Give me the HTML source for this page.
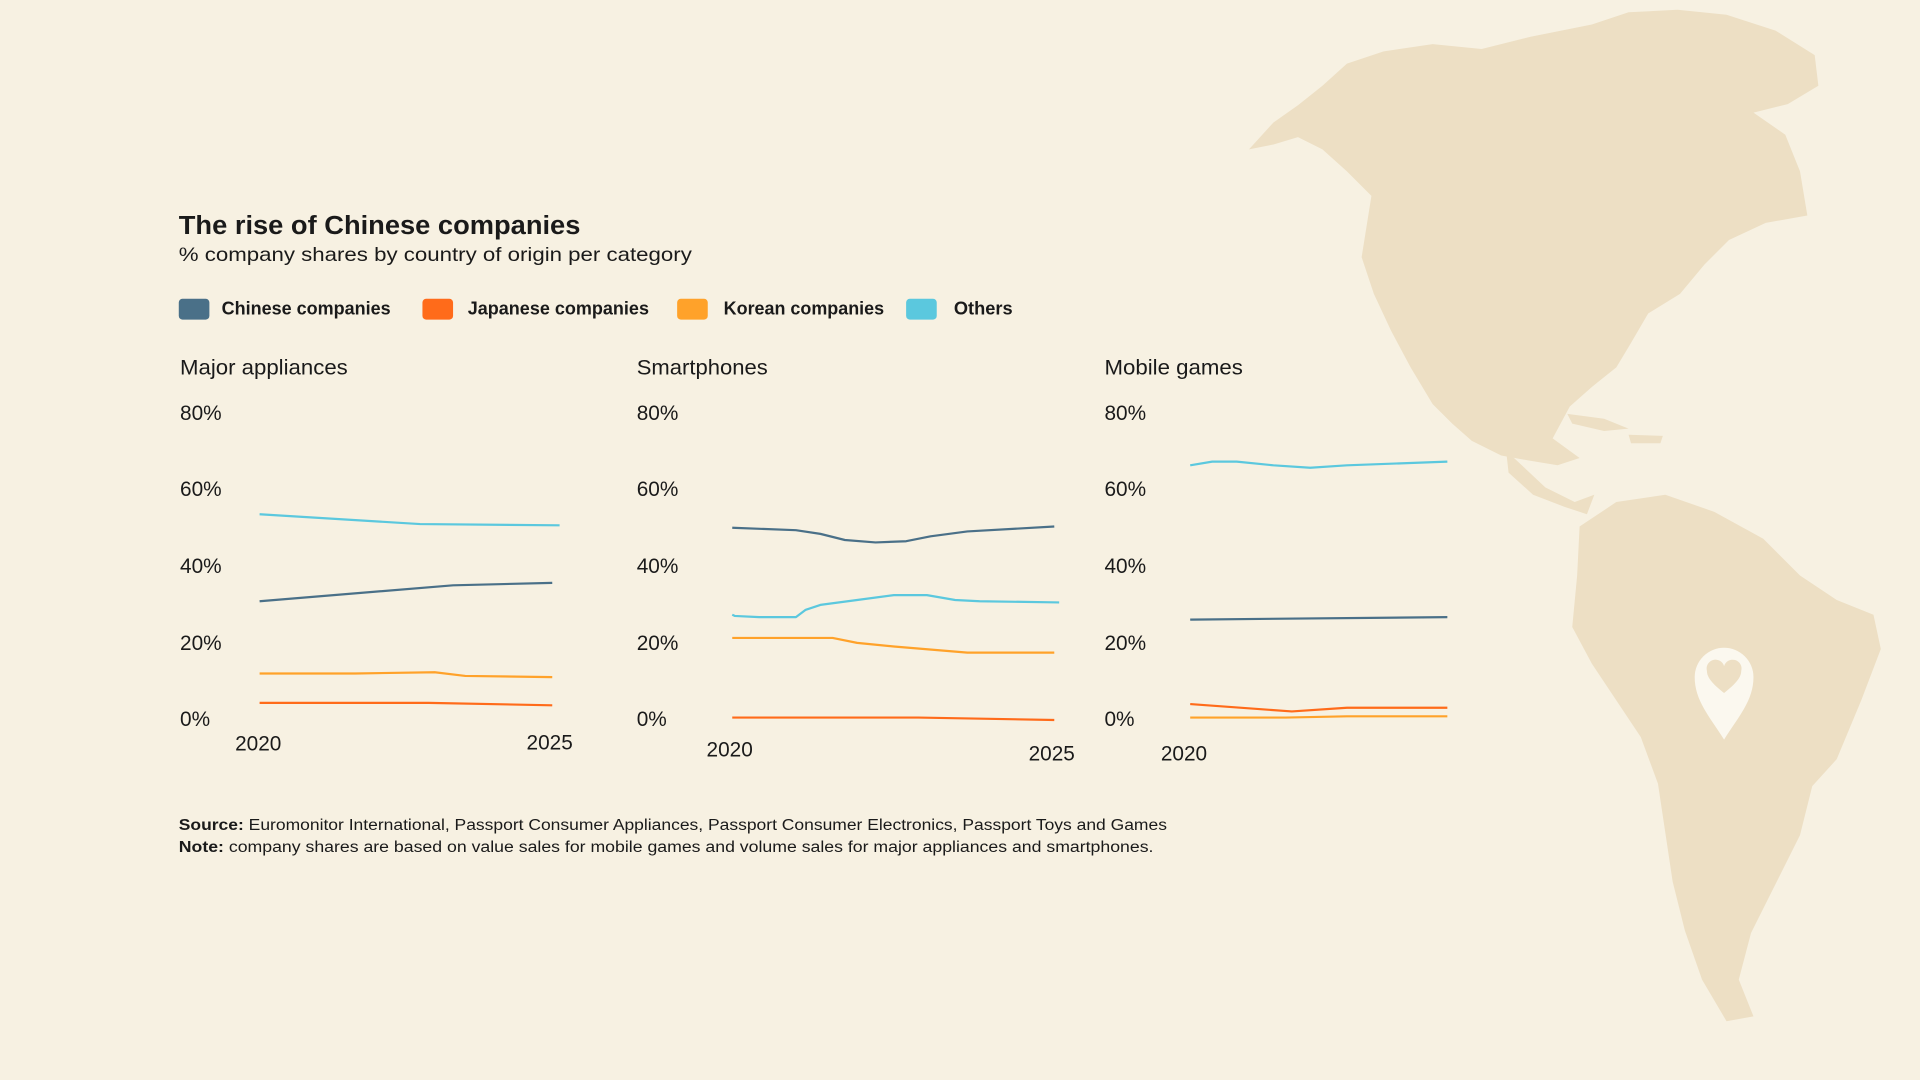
<!DOCTYPE html>
<html><head><meta charset="utf-8"><style>
html,body{margin:0;padding:0;background:#f7f1e2;}
svg{display:block;}
text{font-family:"Liberation Sans",sans-serif;fill:#1a1a1a;}
</style></head><body>
<svg width="1920" height="1080" viewBox="0 0 1568 882" xmlns="http://www.w3.org/2000/svg">
<rect width="1568" height="882" fill="#f7f1e2"/>
<g fill="#eddfc4">
<path d="M1020,122 L1040,100 L1060,86 L1080,70 L1100,52 L1130,42 L1170,36 L1210,40 L1250,30 L1300,20 L1330,10 L1370,8 L1410,12 L1450,25 L1482,45 L1485,70 L1460,85 L1432,92 L1458,110 L1470,140 L1476,176 L1442,182 L1412,196 L1392,216 L1372,240 L1346,256 L1332,280 L1320,300 L1300,316 L1282,332 L1268,358 L1290,374 L1272,380 L1248,376 L1226,372 L1202,360 L1186,346 L1170,330 L1152,300 L1136,270 L1122,240 L1112,210 L1116,185 L1120,160 L1100,140 L1080,122 L1060,112 L1040,118 Z"/>
<path d="M1230,368 L1262,398 L1286,410 L1302,404 L1296,420 L1278,414 L1252,404 L1232,386 Z"/>
<path d="M1290,430 L1320,410 L1360,404 L1400,418 L1440,440 L1470,470 L1500,490 L1530,502 L1536,530 L1520,572 L1500,620 L1480,642 L1470,682 L1450,722 L1430,762 L1420,800 L1432,830 L1410,834 L1390,800 L1376,760 L1366,720 L1360,680 L1354,640 L1340,602 L1320,572 L1300,542 L1284,512 L1288,470 Z"/>
<path d="M1280,338 L1310,342 L1330,350 L1310,352 L1284,346 Z"/>
<path d="M1330,355 L1358,356 L1356,362 L1332,362 Z"/>
</g>
<path d="M1408,604 C1396,585 1384,572 1384,553 A24,24 0 0 1 1432,553 C1432,572 1420,585 1408,604 Z" fill="#fbf8ef"/>
<path d="M1408,566 C1398,558 1394,553 1394,548 A6,6 0 0 1 1408,544 A6,6 0 0 1 1422,548 C1422,553 1418,558 1408,566 Z" fill="#eddfc4"/>

<text x="146" y="191" font-size="21" font-weight="bold" textLength="328" lengthAdjust="spacingAndGlyphs">The rise of Chinese companies</text>
<text x="146" y="213" font-size="16" textLength="419" lengthAdjust="spacingAndGlyphs">% company shares by country of origin per category</text>

<rect x="146" y="244" width="25" height="17" rx="3" fill="#4a7088"/>
<text x="181" y="257" font-size="15" font-weight="bold" textLength="138" lengthAdjust="spacingAndGlyphs">Chinese companies</text>
<rect x="345" y="244" width="25" height="17" rx="3" fill="#ff6b1a"/>
<text x="382" y="257" font-size="15" font-weight="bold" textLength="148" lengthAdjust="spacingAndGlyphs">Japanese companies</text>
<rect x="553" y="244" width="25" height="17" rx="3" fill="#ffa22a"/>
<text x="591" y="257" font-size="15" font-weight="bold" textLength="131" lengthAdjust="spacingAndGlyphs">Korean companies</text>
<rect x="740" y="244" width="25" height="17" rx="3" fill="#5bc8de"/>
<text x="779" y="257" font-size="15" font-weight="bold" textLength="48" lengthAdjust="spacingAndGlyphs">Others</text>

<g font-size="17">
<text x="147" y="306" textLength="137" lengthAdjust="spacingAndGlyphs">Major appliances</text>
<text x="520" y="306" textLength="107" lengthAdjust="spacingAndGlyphs">Smartphones</text>
<text x="902" y="306" textLength="113" lengthAdjust="spacingAndGlyphs">Mobile games</text>
</g>
<g font-size="17">
<text x="147" y="343">80%</text><text x="147" y="405">60%</text><text x="147" y="468">40%</text><text x="147" y="531">20%</text><text x="147" y="593">0%</text>
<text x="520" y="343">80%</text><text x="520" y="405">60%</text><text x="520" y="468">40%</text><text x="520" y="531">20%</text><text x="520" y="593">0%</text>
<text x="902" y="343">80%</text><text x="902" y="405">60%</text><text x="902" y="468">40%</text><text x="902" y="531">20%</text><text x="902" y="593">0%</text>
<text x="192" y="613">2020</text><text x="430" y="612">2025</text>
<text x="577" y="618">2020</text><text x="840" y="621">2025</text>
<text x="948" y="621">2020</text>
</g>

<g fill="none" stroke-width="1.8" stroke-linejoin="round">
<polyline stroke="#5bc8de" points="212,420 343,428 457,429"/>
<polyline stroke="#4a7088" points="212,491 370,478 451,476"/>
<polyline stroke="#ffa22a" points="212,550 290,550 355,549 380,552 451,553"/>
<polyline stroke="#ff6b1a" points="212,574 350,574 451,576"/>

<polyline stroke="#4a7088" points="598,431 650,433 670,436 690,441 715,443 740,442 760,438 790,434 861,430"/>
<polyline stroke="#5bc8de" points="598,502 600,503 620,504 650,504 658,498 670,494 700,490 730,486 757,486 780,490 800,491 865,492"/>
<polyline stroke="#ffa22a" points="598,521 680,521 700,525 730,528 790,533 861,533"/>
<polyline stroke="#ff6b1a" points="598,586 750,586 861,588"/>

<polyline stroke="#5bc8de" points="972,380 990,377 1010,377 1040,380 1070,382 1100,380 1182,377"/>
<polyline stroke="#4a7088" points="972,506 1182,504"/>
<polyline stroke="#ff6b1a" points="972,575 1055,581 1100,578 1182,578"/>
<polyline stroke="#ffa22a" points="972,586 1050,586 1100,585 1182,585"/>
</g>

<text x="146" y="678" font-size="13" textLength="807" lengthAdjust="spacingAndGlyphs"><tspan font-weight="bold">Source:</tspan> Euromonitor International, Passport Consumer Appliances, Passport Consumer Electronics, Passport Toys and Games</text>
<text x="146" y="696" font-size="13" textLength="796" lengthAdjust="spacingAndGlyphs"><tspan font-weight="bold">Note:</tspan> company shares are based on value sales for mobile games and volume sales for major appliances and smartphones.</text>
</svg>
</body></html>
